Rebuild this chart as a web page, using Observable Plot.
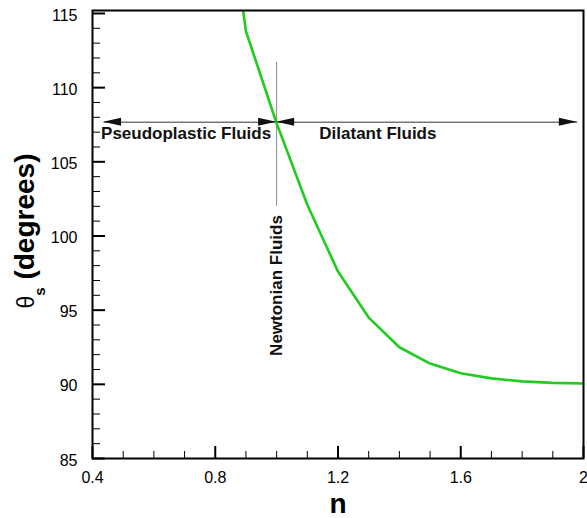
<!DOCTYPE html>
<html>
<head>
<meta charset="utf-8">
<script src="https://cdn.jsdelivr.net/npm/d3@7"></script>
<script src="https://cdn.jsdelivr.net/npm/@observablehq/plot@0.6"></script>
<style>
  body { margin: 0; background: #fff; }
  #chart svg { display: block; }
</style>
</head>
<body>
<div id="chart"></div>
<script>
// ---- data ----
const nValues     = [0.8, 0.9, 1.0, 1.1, 1.2, 1.3, 1.4, 1.5, 1.6, 1.7, 1.8, 1.9, 2.0];
const thetaValues = [129, 113.8, 107.6, 102.1, 97.6, 94.5, 92.5, 91.4, 90.75, 90.4, 90.2, 90.1, 90.05];

const xMajorTicks = [0.4, 0.8, 1.2, 1.6, 2.0];
const xTickLabels = ["0.4", "0.8", "1.2", "1.6", "2"];
const xMinorTicks = [0.5, 0.6, 0.7, 0.9, 1.0, 1.1, 1.3, 1.4, 1.5, 1.7, 1.8, 1.9];
const yMajorTicks = [85, 90, 95, 100, 105, 110, 115];
const yMinorTicks = [86, 87, 88, 89, 91, 92, 93, 94, 96, 97, 98, 99, 101, 102, 103, 104, 106, 107, 108, 109, 111, 112, 113, 114];

// annotations
const regionNames   = ["Pseudoplastic Fluids", "Dilatant Fluids"];
const regionCenters = [0.705, 1.33];
const regionLabelY  = 106.93;
const arrowLevel    = 107.67;
const arrowFrom     = [0.436, 1.0];
const arrowTo       = [1.0, 1.98];
const newtonianN    = 1.0;
const newtonianLine = [102.0, 111.7];
const newtonianText = "Newtonian Fluids";
const newtonianTextY = 96.66;

const curve = nValues.map((n, i) => ({n, theta: thetaValues[i]}));
const arrows = arrowFrom.map((a, i) => ({x1: a, x2: arrowTo[i], y: arrowLevel}));
const regions = regionNames.map((t, i) => ({t, n: regionCenters[i], y: regionLabelY}));

const W = 587, H = 518;
const mL = 92, mR = 4, mT = 10, mB = 60;
const frameW = W - mL - mR, frameH = H - mT - mB;

const chart = Plot.plot({
  width: W, height: H,
  marginLeft: mL, marginRight: mR, marginTop: mT, marginBottom: mB,
  style: {fontFamily: "'Liberation Sans', Arial, Helvetica, sans-serif", fontSize: "16px", background: "#fff", color: "#000"},
  x: {domain: [0.4, 2.0]},
  y: {domain: [85, 115.2]},
  marks: [
    // tick labels
    Plot.axisX(xMajorTicks, {tickSize: 0, tickPadding: 13, tickFormat: (d, i) => xTickLabels[i], fontSize: 16, label: null}),
    Plot.axisY(yMajorTicks, {tickSize: 0, tickPadding: 15, fontSize: 16, dy: 2, label: null}),
    // inward ticks
    Plot.tickY(yMajorTicks, {y: d => d, insetRight: frameW - 13, stroke: "#000", strokeWidth: 2}),
    Plot.tickY(yMinorTicks, {y: d => d, insetRight: frameW - 8, stroke: "#000", strokeWidth: 1}),
    Plot.tickX(xMajorTicks, {x: d => d, insetTop: frameH - 12, stroke: "#000", strokeWidth: 2}),
    Plot.tickX(xMinorTicks, {x: d => d, insetTop: frameH - 7, stroke: "#000", strokeWidth: 1}),
    // newtonian divider
    Plot.ruleX([newtonianN], {y1: newtonianLine[0], y2: newtonianLine[1], stroke: "#888", strokeWidth: 1}),
    Plot.text([newtonianText], {x: newtonianN, y: newtonianTextY, text: d => d, rotate: -90, fontSize: 17, fontWeight: "bold", fill: "#111"}),
    // arrow shafts
    Plot.link(arrows, {x1: "x1", x2: "x2", y1: "y", y2: "y", stroke: "#333", strokeWidth: 1}),
    // region labels
    Plot.text(regions, {x: "n", y: "y", text: "t", fontSize: 17, fontWeight: "bold", fill: "#111", lineAnchor: "middle"}),
    // curve
    Plot.line(curve, {x: "n", y: "theta", stroke: "#1fcc1f", strokeWidth: 2.6, clip: true}),
    // x title
    Plot.text(["n"], {frameAnchor: "bottom", lineAnchor: "middle", text: d => d, dy: 46, fontSize: 28, fontWeight: "bold", fill: "#000"}),
    Plot.frame({stroke: "#000", strokeWidth: 2})
  ]
});

document.getElementById("chart").appendChild(chart);

// filled arrowheads, placed with the plot's own scales
const sx = chart.scale("x"), sy = chart.scale("y");
const svg = d3.select(chart);
const g = svg.append("g").attr("fill", "#111");
arrows.forEach(a => {
  const y = sy.apply(a.y);
  [[a.x1, -1], [a.x2, 1]].forEach(([v, dir]) => {
    const tip = sx.apply(v);
    g.append("path").attr("d", `M${tip},${y}L${tip - dir * 18},${y - 4}L${tip - dir * 18},${y + 4}Z`);
  });
});

// y title with subscript
const yt = svg.append("text")
  .attr("transform", `translate(34,${(mT + H - mB) / 2 - 3}) rotate(-90)`)
  .attr("text-anchor", "middle")
  .attr("font-family", "'Liberation Sans', Arial, Helvetica, sans-serif")
  .attr("fill", "#000");
yt.append("tspan").attr("font-size", 23).attr("font-weight", "normal").text("θ");
yt.append("tspan").attr("font-size", 15).attr("font-weight", "bold").attr("dy", 11).text("s");
yt.append("tspan").attr("font-size", 28).attr("font-weight", "bold").attr("dy", -11).text(" (degrees)");
</script>
</body>
</html>
